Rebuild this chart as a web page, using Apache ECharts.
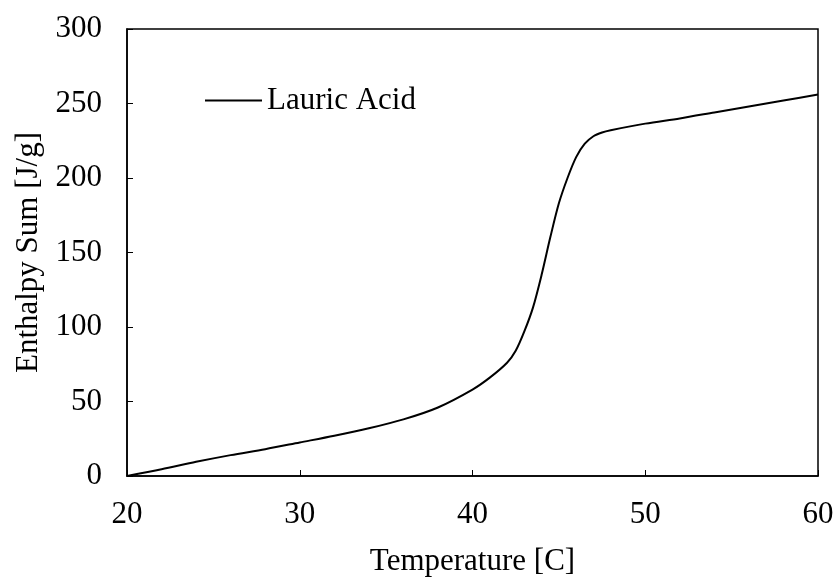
<!DOCTYPE html>
<html><head><meta charset="utf-8">
<script src="https://cdn.jsdelivr.net/npm/echarts@6/dist/echarts.min.js"></script>
<style>html,body{margin:0;padding:0;background:#fff}#c{width:840px;height:582px}</style>
</head><body><div id="c"></div>
<script>
const seriesName = 'Lauric Acid';
const temperature = [20,22,24,26,28,30,32,34,36,38,40,41,42,42.5,43,43.5,44,44.5,45,45.5,46,46.5,47,47.5,48,50,52,54,56,58,60];
const enthalpy = [0,4.5,9.5,14,18,22.5,27,32,38,46,58,66,76,84,97,113,135,160,183,200,214,223,228,230.5,232,236.5,240,244,248,252,256];
const xTicks = [20,30,40,50,60];
const yTicks = [0,50,100,150,200,250,300];

const font = 'Liberation Serif, Times New Roman, serif';
const fs = 31;
const chart = echarts.init(document.getElementById('c'));
chart.setOption({
  animation: false,
  backgroundColor: '#fff',
  grid: {left: 127, right: 22, top: 29, bottom: 104, show: true, borderColor: '#000', borderWidth: 1.5, backgroundColor: 'transparent'},
  legend: {
    left: 200, top: 80, itemWidth: 57, itemHeight: 2, itemGap: 0,
    data: [{name: seriesName, icon: 'rect'}],
    itemStyle: {color: '#000', borderWidth: 0},
    textStyle: {fontFamily: font, fontSize: fs, color: '#000'},
  },
  xAxis: {
    type: 'value', min: xTicks[0], max: xTicks[xTicks.length-1], interval: 10,
    name: 'Temperature [C]', nameLocation: 'middle', nameGap: 70,
    nameTextStyle: {fontFamily: font, fontSize: fs, color: '#000'},
    axisLine: {lineStyle: {color: '#000', width: 1.5}},
    axisTick: {inside: true, length: 6, lineStyle: {color: '#000'}},
    axisLabel: {fontFamily: font, fontSize: fs, color: '#000', margin: 23},
    splitLine: {show: false}
  },
  yAxis: {
    type: 'value', min: yTicks[0], max: yTicks[yTicks.length-1], interval: 50,
    name: 'Enthalpy Sum [J/g]', nameLocation: 'middle', nameGap: 82,
    nameTextStyle: {fontFamily: font, fontSize: fs, color: '#000'},
    axisLine: {lineStyle: {color: '#000', width: 1.5}},
    axisTick: {inside: true, length: 6, lineStyle: {color: '#000'}},
    axisLabel: {fontFamily: font, fontSize: fs, color: '#000', margin: 25},
    splitLine: {show: false}
  },
  series: [{
    name: seriesName, type: 'line', smooth: 0.3, symbol: 'none',
    lineStyle: {color: '#000', width: 2}, itemStyle: {color: '#000'},
    data: temperature.map((t,i)=>[t, enthalpy[i]])
  }]
});
</script></body></html>
